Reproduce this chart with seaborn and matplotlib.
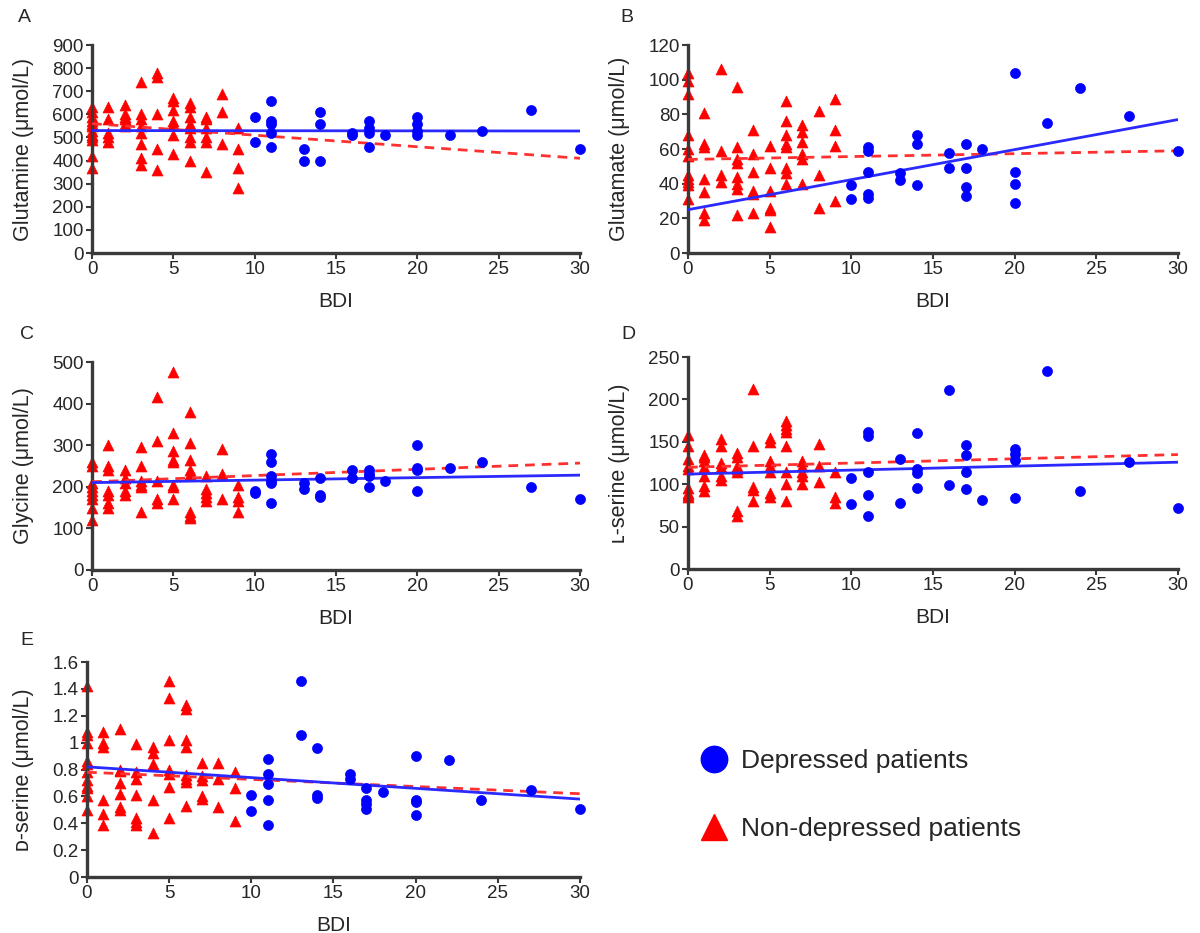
import numpy as np
import pandas as pd
import seaborn as sns
import matplotlib.pyplot as plt
from matplotlib.lines import Line2D
from matplotlib.ticker import FuncFormatter

sns.set_style("white")
plt.rcParams['font.family'] = ['Liberation Sans', 'DejaVu Sans']

glutamine_nondep = {0: [630, 610, 590, 570, 560, 550, 530, 510, 500, 490, 420, 370],
                    1: [630, 580, 520, 500, 480],
                    2: [640, 600, 590, 580, 560, 550],
                    3: [740, 600, 580, 550, 520, 470, 410, 380],
                    4: [780, 760, 600, 450, 360],
                    5: [670, 660, 620, 570, 560, 510, 430],
                    6: [650, 630, 590, 560, 540, 500, 480, 400],
                    7: [590, 580, 540, 500, 480, 350],
                    8: [690, 610, 470],
                    9: [540, 450, 370, 280]}
glutamine_dep = {10: [590, 480], 11: [660, 570, 560, 520, 460], 13: [450, 400],
                 14: [610, 560, 400], 16: [520, 510], 17: [570, 540, 520, 460],
                 18: [510], 20: [590, 560, 530, 510], 22: [510], 24: [530],
                 27: [620], 30: [450]}

glutamate_nondep = {0: [104, 99, 92, 68, 60, 56, 45, 43, 41, 39, 31],
                    1: [81, 63, 61, 43, 35, 23, 19],
                    2: [106, 59, 45, 41],
                    3: [96, 61, 54, 52, 44, 40, 37, 22],
                    4: [71, 57, 47, 36, 34, 23],
                    5: [62, 49, 36, 26, 25, 15],
                    6: [88, 76, 68, 63, 61, 49, 46, 40],
                    7: [74, 70, 64, 57, 54, 40],
                    8: [82, 45, 26],
                    9: [89, 71, 62, 30]}
glutamate_dep = {10: [39, 31], 11: [61, 59, 47, 34, 32], 13: [46, 42],
                 14: [68, 63, 39], 16: [58, 49], 17: [63, 49, 38, 33],
                 18: [60], 20: [104, 47, 40, 29], 22: [75], 24: [95],
                 27: [79], 30: [59]}

glycine_nondep = {0: [260, 250, 210, 200, 190, 180, 170, 150, 120],
                  1: [300, 250, 240, 190, 180, 160, 150],
                  2: [240, 220, 210, 190, 180],
                  3: [295, 250, 215, 205, 200, 140],
                  4: [415, 310, 215, 170, 160],
                  5: [475, 330, 285, 265, 260, 205, 200, 170],
                  6: [380, 305, 265, 240, 230, 140, 130, 125],
                  7: [225, 195, 185, 175, 165],
                  8: [290, 230, 170],
                  9: [205, 175, 165, 140]}
glycine_dep = {10: [190, 185], 11: [280, 260, 225, 215, 210, 160], 13: [210, 195],
               14: [220, 180, 175], 16: [240, 220], 17: [240, 230, 225, 200],
               18: [215], 20: [300, 245, 240, 190], 22: [245], 24: [260],
               27: [200], 30: [170]}

lserine_nondep = {0: [158, 145, 130, 122, 118, 95, 90, 87, 85],
                  1: [135, 132, 128, 120, 110, 98, 92],
                  2: [153, 145, 125, 120, 110, 105],
                  3: [137, 132, 122, 118, 115, 68, 62],
                  4: [212, 145, 97, 93, 80],
                  5: [155, 150, 128, 122, 115, 90, 85],
                  6: [175, 170, 165, 162, 145, 115, 100, 80],
                  7: [128, 122, 115, 110, 100],
                  8: [148, 122, 103],
                  9: [115, 85, 78]}
lserine_dep = {10: [107, 77], 11: [162, 157, 115, 87, 62], 13: [130, 78],
               14: [160, 118, 113, 96], 16: [211, 99], 17: [146, 134, 115, 94],
               18: [81], 20: [141, 136, 129, 84], 22: [234], 24: [92],
               27: [126], 30: [72]}

dserine_nondep = {0: [1.42, 1.08, 1.06, 1.0, 0.86, 0.84, 0.78, 0.72, 0.68, 0.66, 0.6, 0.5],
                  1: [1.08, 1.0, 0.97, 0.57, 0.47, 0.39],
                  2: [1.10, 0.8, 0.79, 0.7, 0.62, 0.52, 0.5],
                  3: [0.99, 0.78, 0.73, 0.61, 0.44, 0.41, 0.39],
                  4: [0.97, 0.92, 0.84, 0.57, 0.33],
                  5: [1.46, 1.33, 1.02, 0.8, 0.77, 0.67, 0.44],
                  6: [1.28, 1.25, 1.02, 0.97, 0.76, 0.73, 0.71, 0.53],
                  7: [0.85, 0.75, 0.72, 0.6, 0.58],
                  8: [0.85, 0.73, 0.52],
                  9: [0.78, 0.66, 0.42]}
dserine_dep = {10: [0.61, 0.49], 11: [0.88, 0.77, 0.69, 0.57, 0.39], 13: [1.46, 1.06],
               14: [0.96, 0.61, 0.59], 16: [0.77, 0.73], 17: [0.66, 0.57, 0.54, 0.51],
               18: [0.63], 20: [0.9, 0.57, 0.56, 0.46], 22: [0.87], 24: [0.57],
               27: [0.65], 30: [0.51]}

# trend lines: value at BDI 0 and BDI 30
fit_bdi = [0, 30]
glutamine_fit_dep, glutamine_fit_nondep = [530, 528], [560, 410]
glutamate_fit_dep, glutamate_fit_nondep = [25, 77], [54, 59]
glycine_fit_dep, glycine_fit_nondep = [210, 228], [212, 257]
lserine_fit_dep, lserine_fit_nondep = [112, 126], [120, 135]
dserine_fit_dep, dserine_fit_nondep = [0.82, 0.58], [0.78, 0.62]

panels = [
    ("A", "Glutamine (\u03bcmol/L)", glutamine_nondep, glutamine_dep, glutamine_fit_dep, glutamine_fit_nondep, np.arange(0, 901, 100)),
    ("B", "Glutamate (\u03bcmol/L)", glutamate_nondep, glutamate_dep, glutamate_fit_dep, glutamate_fit_nondep, np.arange(0, 121, 20)),
    ("C", "Glycine (\u03bcmol/L)", glycine_nondep, glycine_dep, glycine_fit_dep, glycine_fit_nondep, np.arange(0, 501, 100)),
    ("D", "\u029f-serine (\u03bcmol/L)", lserine_nondep, lserine_dep, lserine_fit_dep, lserine_fit_nondep, np.arange(0, 251, 50)),
    ("E", "\u1d05-serine (\u03bcmol/L)", dserine_nondep, dserine_dep, dserine_fit_dep, dserine_fit_nondep, np.round(np.arange(0, 1.61, 0.2), 1)),
]

# axes rectangles and panel-letter spots in figure fractions
positions = [
    [0.0767, 0.7288, 0.4067, 0.2229],
    [0.5733, 0.7288, 0.4083, 0.2229],
    [0.0767, 0.3891, 0.4067, 0.2229],
    [0.5733, 0.3901, 0.4083, 0.2272],
    [0.0725, 0.0600, 0.4108, 0.2304],
]
letter_xy = [(0.015, 0.981), (0.517, 0.981), (0.017, 0.641), (0.518, 0.641), (0.017, 0.314)]

red = "#ff0000"
blue = "#0000ff"
spine_col = "#3a3a3a"

fig = plt.figure(figsize=(12, 9.33), dpi=100)

for (letter, ylabel, nondep, dep, fit_dep, fit_nondep, yticks), pos, lxy in zip(panels, positions, letter_xy):
    rows = []
    for b, vals in nondep.items():
        rows += [("Non-depressed patients", b, v) for v in vals]
    for b, vals in dep.items():
        rows += [("Depressed patients", b, v) for v in vals]
    df = pd.DataFrame(rows, columns=["group", "BDI", "value"])

    ax = fig.add_axes(pos)
    sns.scatterplot(data=df[df.group == "Non-depressed patients"], x="BDI", y="value",
                    color=red, marker="^", s=62, edgecolor=red, linewidth=0.5,
                    ax=ax, legend=False, zorder=2, clip_on=False)
    ax.plot(fit_bdi, fit_nondep, color="#ff3030", lw=2, ls=(0, (3.5, 2.5)), zorder=3)
    ax.plot(fit_bdi, fit_dep, color="#2a2aff", lw=2, zorder=4)
    sns.scatterplot(data=df[df.group == "Depressed patients"], x="BDI", y="value",
                    color=blue, marker="o", s=52, edgecolor=blue, linewidth=0.5,
                    ax=ax, legend=False, zorder=5, clip_on=False)

    ax.set_xlim(0, 30)
    ax.set_ylim(yticks[0], yticks[-1])
    ax.set_xticks(range(0, 31, 5))
    ax.set_yticks(yticks)
    ax.yaxis.set_major_formatter(FuncFormatter(lambda v, p: f"{v:g}"))
    ax.set_xlabel("BDI", fontsize=15, labelpad=10)
    ax.set_ylabel(ylabel, fontsize=15.5, labelpad=13)
    for side in ["top", "right"]:
        ax.spines[side].set_visible(False)
    for side in ["left", "bottom"]:
        ax.spines[side].set_color(spine_col)
        ax.spines[side].set_linewidth(2.4)
    ax.tick_params(axis="both", direction="out", length=4, width=1.5, color=spine_col,
                   labelsize=13.5, pad=2, bottom=True, left=True)
    ax.grid(False)
    fig.text(lxy[0], lxy[1], letter, fontsize=14, ha="left", va="center")

handles = [Line2D([], [], ls="none", marker="o", markersize=19, color=blue),
           Line2D([], [], ls="none", marker="^", markersize=19, color=red)]
fig.legend(handles, ["Depressed patients", "Non-depressed patients"], loc="center left",
           bbox_to_anchor=(0.564, 0.148), frameon=False, fontsize=19, labelspacing=1.68,
           handlelength=1.0, handletextpad=0.55)

fig.savefig("out.png", dpi=100)
